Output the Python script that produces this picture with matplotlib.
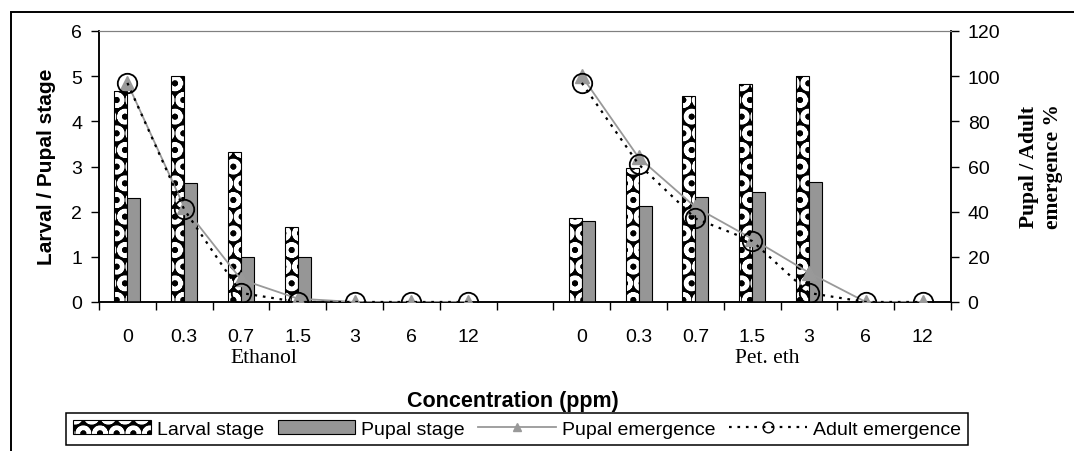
import numpy as np
import matplotlib
matplotlib.use("Agg")
import matplotlib.pyplot as plt
from matplotlib.patches import Patch, Rectangle
from matplotlib.lines import Line2D
from matplotlib.legend_handler import HandlerTuple

# Datos
concentraciones = ['0', '0.3', '0.7', '1.5', '3', '6', '12']
grupos = ['Ethanol', 'Pet. eth']

larval_eth = [4.68, 5.0, 3.33, 1.67, 0, 0, 0]
pupal_eth = [2.3, 2.63, 1.0, 1.0, 0, 0, 0]
larval_pet = [1.86, 2.96, 4.57, 4.83, 5.0, 0, 0]
pupal_pet = [1.79, 2.12, 2.33, 2.44, 2.66, 0, 0]

emerg_pupal_eth = [97, 42, 10, 1.5, 0, 0, 0]
emerg_adult_eth = [97, 41, 4, 0, 0, 0, 0]
emerg_pupal_pet = [100, 64, 42, 28, 13, 0, 0]
emerg_adult_pet = [97, 61, 37, 27, 4, 0, 0]

plt.rcParams['font.family'] = ['Liberation Sans', 'DejaVu Sans']
plt.rcParams['hatch.linewidth'] = 3.0

W, H = 1074, 452
fig = plt.figure(figsize=(W / 100, H / 100), dpi=100)
ax = fig.add_axes([99 / W, 1 - 303 / H, (951 - 99) / W, (303 - 32) / H])
ax2 = ax.twinx()

n = len(concentraciones)
x_eth = np.arange(n)
x_pet = np.arange(n) + n + 1
ancho = 0.23

# Barras (eje izquierdo)
for xs, larv, pup in [(x_eth, larval_eth, pupal_eth), (x_pet, larval_pet, pupal_pet)]:
    ax.bar(xs - ancho / 2, larv, ancho, color='black', hatch='O', edgecolor='white', linewidth=0, zorder=2)
    ax.bar(xs - ancho / 2, larv, ancho, fill=False, edgecolor='black', linewidth=0.8, zorder=3)
    ax.bar(xs + ancho / 2, pup, ancho, color='#969696', edgecolor='black', linewidth=0.8, zorder=3)

# Lineas de emergencia (eje derecho)
for xs, pe, ae in [(x_eth, emerg_pupal_eth, emerg_adult_eth), (x_pet, emerg_pupal_pet, emerg_adult_pet)]:
    ax2.plot(xs, pe, color='#999999', lw=1.3, marker='^', ms=9.5, mfc='#999999', mec='#999999', zorder=4)
    ax2.plot(xs, ae, color='black', lw=1.6, linestyle=(0, (1.2, 2.6)), marker='o', ms=14,
             mfc='none', mec='black', mew=1.3, zorder=5)

ax.set_xlim(-0.5, 2 * n + 0.5)
ax.set_ylim(0, 6)
ax2.set_ylim(0, 120)
ax.set_yticks(range(0, 7))
ax2.set_yticks(range(0, 121, 20))

# Marcas entre categorias y etiquetas en el centro
ax.set_xticks(np.arange(-0.5, 2 * n + 1, 1.0))
ax.set_xticklabels([])
ax.set_xticks(np.concatenate([x_eth, x_pet]), minor=True)
ax.set_xticklabels(concentraciones + concentraciones, minor=True, fontsize=14)
ax.tick_params(axis='x', which='major', length=6, width=1, direction='out')
ax.tick_params(axis='x', which='minor', length=0, pad=19)
ax.tick_params(axis='y', length=6, width=1, labelsize=14, pad=6)
ax2.tick_params(axis='y', length=6, width=1, labelsize=14, pad=6)

for a in (ax, ax2):
    a.spines['top'].set_color('#808080')
    a.spines['left'].set_linewidth(1.1)
    a.spines['right'].set_linewidth(1.1)
    a.spines['bottom'].set_linewidth(1.1)
ax.set_zorder(ax2.get_zorder() - 1)
ax2.patch.set_visible(False)
ax.patch.set_visible(True)

# Etiquetas de grupo
trans = matplotlib.transforms.blended_transform_factory(ax.transData, fig.transFigure)
ax.text(2.4, 1 - 359 / H, grupos[0], transform=trans, ha='center', va='center',
        fontsize=15.5, family=['Liberation Serif', 'DejaVu Serif'])
ax.text(11.26, 1 - 359 / H, grupos[1], transform=trans, ha='center', va='center',
        fontsize=15.5, family=['Liberation Serif', 'DejaVu Serif'])

fig.text(47 / W, 1 - 167 / H, 'Larval / Pupal stage', rotation=90, ha='center', va='center',
         fontsize=15, fontweight='bold')
fig.text(1041 / W, 1 - 167 / H, 'Pupal / Adult\nemergence %', rotation=90, ha='center', va='center',
         fontsize=15.5, fontweight='bold', linespacing=1.3, family=['Liberation Serif', 'DejaVu Serif'])
fig.text(513 / W, 1 - 402 / H, 'Concentration (ppm)', ha='center', va='center',
         fontsize=15.5, fontweight='bold')

# Leyenda
h_larval = (Patch(facecolor='black', hatch='O', edgecolor='white', linewidth=0),
            Patch(fill=False, edgecolor='black', linewidth=0.8))
h_pupal = Patch(facecolor='#969696', edgecolor='black', linewidth=0.8)
h_pem = Line2D([], [], color='#999999', lw=1.3, marker='^', ms=9.5, mfc='#999999', mec='#999999')
h_aem = Line2D([], [], color='black', lw=1.6, linestyle=(0, (1.2, 2.6)), marker='o', ms=14,
               mfc='none', mec='black', mew=1.0)
leg = fig.legend([h_larval, h_pupal, h_pem, h_aem],
                 ['Larval stage', 'Pupal stage', 'Pupal emergence', 'Adult emergence'],
                 handler_map={tuple: HandlerTuple(ndivide=1, pad=0)},
                 loc='center', bbox_to_anchor=(517 / W, 1 - 430 / H), ncol=4, fontsize=14,
                 frameon=True, fancybox=False, edgecolor='black', framealpha=1,
                 handlelength=4.0, handletextpad=0.3, columnspacing=0.7, borderpad=0.35,
                 markerscale=0.55)
leg.get_frame().set_linewidth(1.1)

# Marco exterior
fig.patches.append(Rectangle((11 / W, -0.1), 1.2, 1.1 - 13 / H, transform=fig.transFigure,
                             fill=False, edgecolor='black', linewidth=1.4))

fig.savefig('out.png', dpi=100)
